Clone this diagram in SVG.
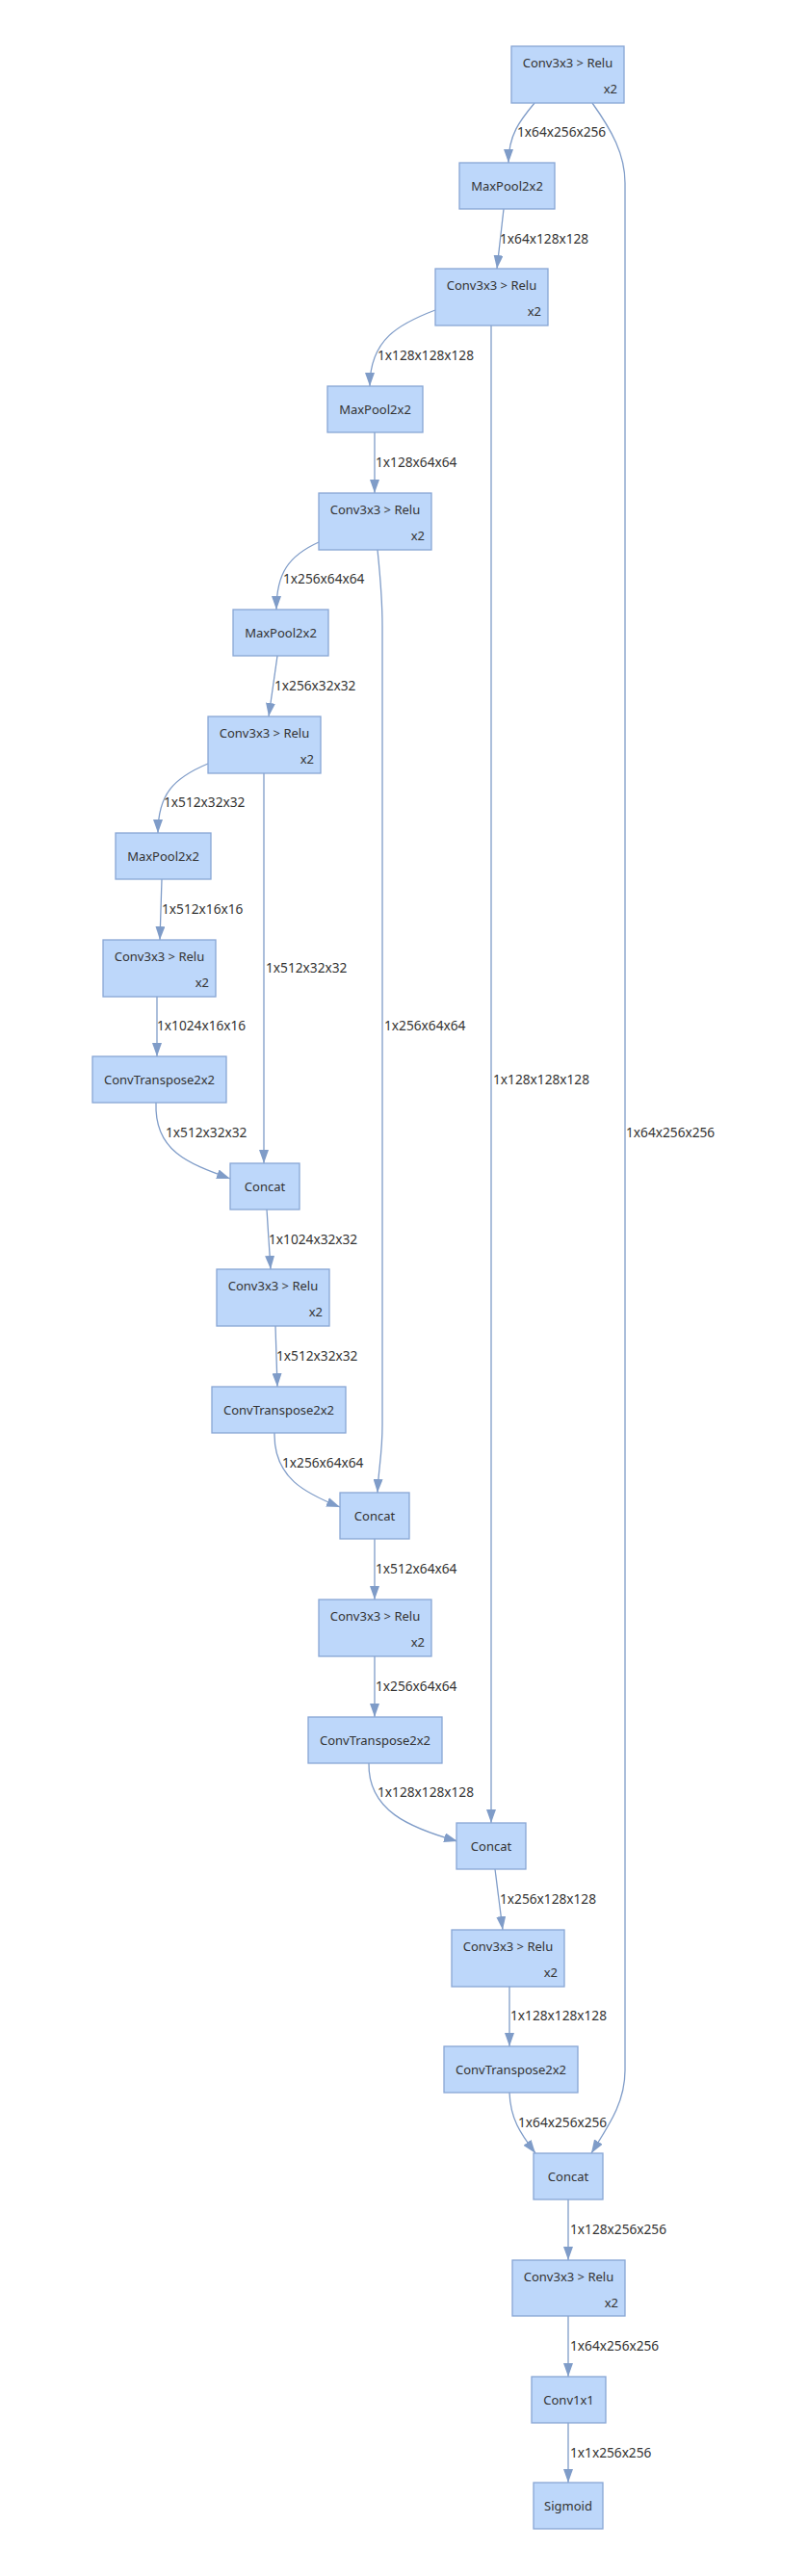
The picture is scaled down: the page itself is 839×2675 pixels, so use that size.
<svg xmlns="http://www.w3.org/2000/svg" width="839" height="2675" viewBox="0 0 839 2675">
<style>
.box{fill:#bdd7fa;stroke:#88a6d5;stroke-width:1.3}
.t{font-family:"Noto Sans","Open Sans",sans-serif;font-size:13px;fill:#333;dominant-baseline:central}
.l text{font-size:13.7px}
.c{text-anchor:middle}
.r{text-anchor:end}
.e{fill:none;stroke:#7f9cc8;stroke-width:1.3;marker-end:url(#arr)}
</style>
<defs>
<marker id="arr" markerUnits="userSpaceOnUse" markerWidth="14" markerHeight="10" refX="14" refY="5" orient="auto">
<path d="M0,0 L14,5 L0,10 z" fill="#7f9cc8"/>
</marker>
</defs>
<rect width="839" height="2675" fill="#fff"/>
<g id="connectors">
<path class="e" d="M555,107 C540,125 528,140 528,169"/>
<path class="e" d="M615,107 C635,135 649,160 649,190 L649,2150 C649,2185 630,2210 614,2236"/>
<path class="e" d="M523,217 L516,279"/>
<path class="e" d="M452,322 C415,336 384,352 384,401"/>
<path class="e" d="M510,338 L510,1893"/>
<path class="e" d="M389,449 L389,512"/>
<path class="e" d="M331,563 C300,577 287,595 287,633"/>
<path class="e" d="M392,571 C395,600 397,620 397,650 L397,1480 C397,1510 393,1525 392,1550"/>
<path class="e" d="M288,681 L279,744"/>
<path class="e" d="M216,793 C180,808 164,825 164,865"/>
<path class="e" d="M274,803 L274,1208"/>
<path class="e" d="M168,913 L166,976"/>
<path class="e" d="M163,1035 L163,1097"/>
<path class="e" d="M162,1145 C160,1195 195,1208 239,1224"/>
<path class="e" d="M277,1256 L281,1318"/>
<path class="e" d="M286,1377 L288,1440"/>
<path class="e" d="M285,1488 C284,1535 318,1551 353,1565"/>
<path class="e" d="M389,1598 L389,1661"/>
<path class="e" d="M389,1720 L389,1783"/>
<path class="e" d="M383,1831 C382,1880 425,1898 475,1912"/>
<path class="e" d="M514,1941 L522,2004"/>
<path class="e" d="M529,2063 L529,2125"/>
<path class="e" d="M529,2173 C530,2200 540,2215 556,2236"/>
<path class="e" d="M590,2284 L590,2347"/>
<path class="e" d="M590,2405 L590,2468"/>
<path class="e" d="M590,2516 L590,2578"/>
<g class="t l">
<text x="537" y="136">1x64x256x256</text>
<text x="519" y="247">1x64x128x128</text>
<text x="392" y="368">1x128x128x128</text>
<text x="390" y="479">1x128x64x64</text>
<text x="294" y="600">1x256x64x64</text>
<text x="285" y="711">1x256x32x32</text>
<text x="170" y="832">1x512x32x32</text>
<text x="168" y="943">1x512x16x16</text>
<text x="163" y="1064">1x1024x16x16</text>
<text x="276" y="1004">1x512x32x32</text>
<text x="172" y="1175">1x512x32x32</text>
<text x="279" y="1286">1x1024x32x32</text>
<text x="287" y="1407">1x512x32x32</text>
<text x="293" y="1518">1x256x64x64</text>
<text x="399" y="1064">1x256x64x64</text>
<text x="512" y="1120">1x128x128x128</text>
<text x="650" y="1175">1x64x256x256</text>
<text x="390" y="1628">1x512x64x64</text>
<text x="390" y="1750">1x256x64x64</text>
<text x="392" y="1860">1x128x128x128</text>
<text x="519" y="1971">1x256x128x128</text>
<text x="530" y="2092">1x128x128x128</text>
<text x="538" y="2203">1x64x256x256</text>
<text x="592" y="2314">1x128x256x256</text>
<text x="592" y="2435">1x64x256x256</text>
<text x="592" y="2546">1x1x256x256</text>
</g>
</g>
<g id="n1"><rect class="box" x="531" y="48" width="117" height="59"/><text class="t c" x="589.5" y="64.5">Conv3x3 &gt; Relu</text><text class="t r" x="641" y="92">x2</text></g>
<g id="n2"><rect class="box" x="477" y="169" width="99" height="48"/><text class="t c" x="526.5" y="193">MaxPool2x2</text></g>
<g id="n3"><rect class="box" x="452" y="279" width="117" height="59"/><text class="t c" x="510.5" y="295.5">Conv3x3 &gt; Relu</text><text class="t r" x="562" y="323">x2</text></g>
<g id="n4"><rect class="box" x="340" y="401" width="99" height="48"/><text class="t c" x="389.5" y="425">MaxPool2x2</text></g>
<g id="n5"><rect class="box" x="331" y="512" width="117" height="59"/><text class="t c" x="389.5" y="528.5">Conv3x3 &gt; Relu</text><text class="t r" x="441" y="556">x2</text></g>
<g id="n6"><rect class="box" x="242" y="633" width="99" height="48"/><text class="t c" x="291.5" y="657">MaxPool2x2</text></g>
<g id="n7"><rect class="box" x="216" y="744" width="117" height="59"/><text class="t c" x="274.5" y="760.5">Conv3x3 &gt; Relu</text><text class="t r" x="326" y="788">x2</text></g>
<g id="n8"><rect class="box" x="120" y="865" width="99" height="48"/><text class="t c" x="169.5" y="889">MaxPool2x2</text></g>
<g id="n9"><rect class="box" x="107" y="976" width="117" height="59"/><text class="t c" x="165.5" y="992.5">Conv3x3 &gt; Relu</text><text class="t r" x="217" y="1020">x2</text></g>
<g id="n10"><rect class="box" x="96" y="1097" width="139" height="48"/><text class="t c" x="165.5" y="1121">ConvTranspose2x2</text></g>
<g id="n11"><rect class="box" x="239" y="1208" width="72" height="48"/><text class="t c" x="275" y="1232">Concat</text></g>
<g id="n12"><rect class="box" x="225" y="1318" width="117" height="59"/><text class="t c" x="283.5" y="1334.5">Conv3x3 &gt; Relu</text><text class="t r" x="335" y="1362">x2</text></g>
<g id="n13"><rect class="box" x="220" y="1440" width="139" height="48"/><text class="t c" x="289.5" y="1464">ConvTranspose2x2</text></g>
<g id="n14"><rect class="box" x="353" y="1550" width="72" height="48"/><text class="t c" x="389" y="1574">Concat</text></g>
<g id="n15"><rect class="box" x="331" y="1661" width="117" height="59"/><text class="t c" x="389.5" y="1677.5">Conv3x3 &gt; Relu</text><text class="t r" x="441" y="1705">x2</text></g>
<g id="n16"><rect class="box" x="320" y="1783" width="139" height="48"/><text class="t c" x="389.5" y="1807">ConvTranspose2x2</text></g>
<g id="n17"><rect class="box" x="474" y="1893" width="72" height="48"/><text class="t c" x="510" y="1917">Concat</text></g>
<g id="n18"><rect class="box" x="469" y="2004" width="117" height="59"/><text class="t c" x="527.5" y="2020.5">Conv3x3 &gt; Relu</text><text class="t r" x="579" y="2048">x2</text></g>
<g id="n19"><rect class="box" x="461" y="2125" width="139" height="48"/><text class="t c" x="530.5" y="2149">ConvTranspose2x2</text></g>
<g id="n20"><rect class="box" x="554" y="2236" width="72" height="48"/><text class="t c" x="590" y="2260">Concat</text></g>
<g id="n21"><rect class="box" x="532" y="2347" width="117" height="58"/><text class="t c" x="590.5" y="2363.5">Conv3x3 &gt; Relu</text><text class="t r" x="642" y="2391">x2</text></g>
<g id="n22"><rect class="box" x="552" y="2468" width="77" height="48"/><text class="t c" x="590.5" y="2492">Conv1x1</text></g>
<g id="n23"><rect class="box" x="554" y="2578" width="72" height="48"/><text class="t c" x="590" y="2602">Sigmoid</text></g>
</svg>
